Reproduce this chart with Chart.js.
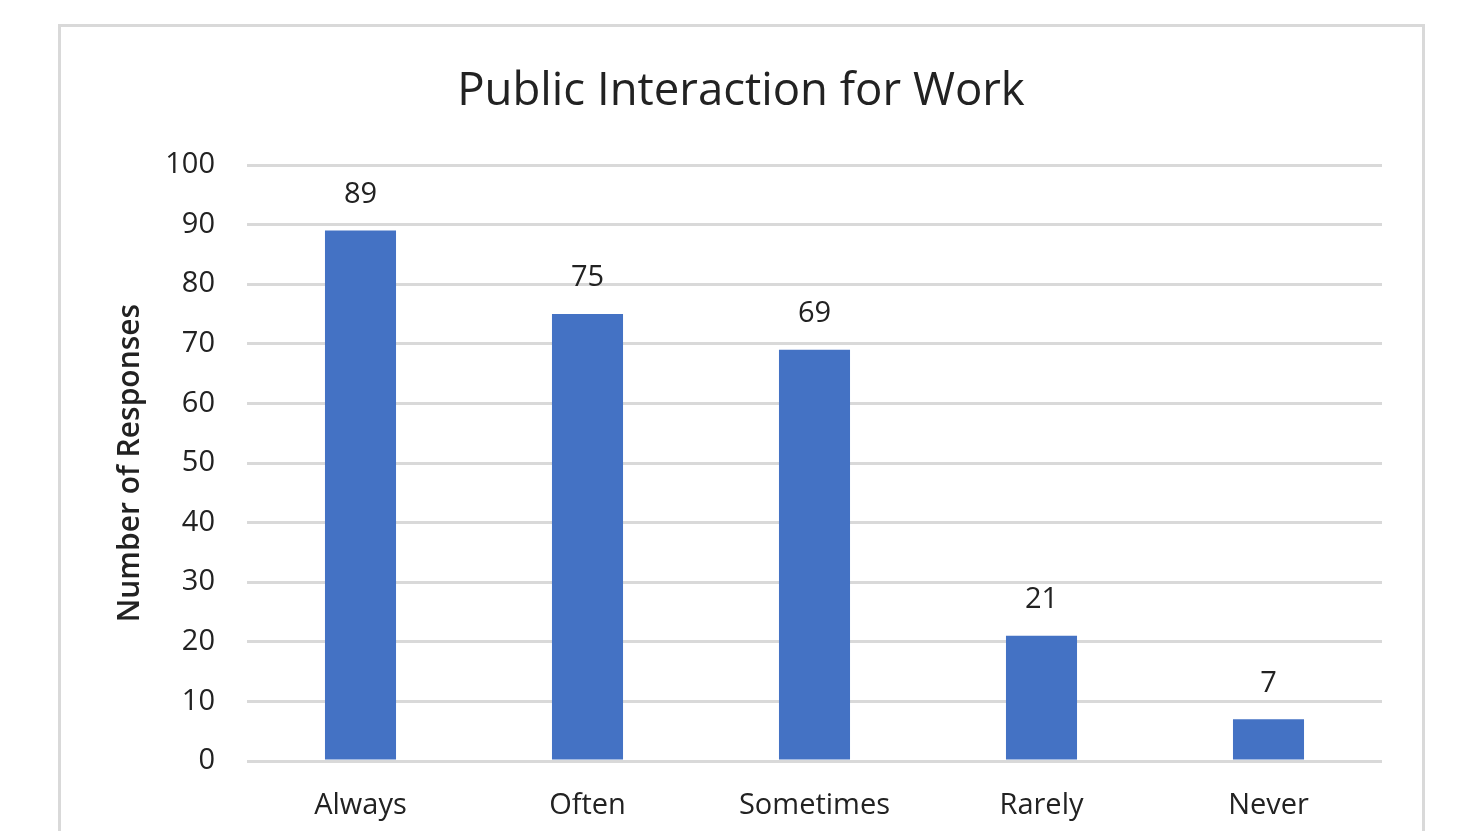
<!DOCTYPE html>
<html>
<head>
<meta charset="utf-8">
<title>Public Interaction for Work</title>
<script src="https://cdn.jsdelivr.net/npm/chart.js@4.4.1/dist/chart.umd.min.js"></script>
<style>
  html, body { margin: 0; padding: 0; background: #fff; overflow: hidden; }
  #wrap { position: relative; width: 1474px; height: 831px; }
  #frame {
    position: absolute; left: 58px; top: 24px; width: 1361px; height: 840px;
    border: 3px solid #d9d9d9; box-sizing: content-box;
  }
  #chart { position: absolute; left: 0; top: 0; }
</style>
</head>
<body>
<div id="wrap">
  <div id="frame"></div>
  <canvas id="chart" width="1474" height="831"></canvas>
</div>
<script>
// Réponses par fréquence
var categories = ['Always', 'Often', 'Sometimes', 'Rarely', 'Never'];
var responses = [89, 75, 69, 21, 7];
var yTicks = [0, 10, 20, 30, 40, 50, 60, 70, 80, 90, 100];

var FONT = '"Open Sans", "Noto Sans", sans-serif';
var TEXT = '#222222';

// étiquettes de valeur au-dessus des barres
var valueLabels = {
    id: 'valueLabels',
    afterDatasetsDraw: function (chart) {
        var ctx = chart.ctx;
        var meta = chart.getDatasetMeta(0);
        ctx.save();
        ctx.font = '29px ' + FONT;
        ctx.fillStyle = TEXT;
        ctx.textAlign = 'center';
        ctx.textBaseline = 'middle';
        meta.data.forEach(function (bar, i) {
            ctx.fillText(String(responses[i]), bar.x, bar.y - 36);
        });
        ctx.restore();
    }
};

document.addEventListener('DOMContentLoaded', function () {
    var ctx = document.getElementById('chart').getContext('2d');
    var chart = new Chart(ctx, {
        type: 'bar',
        data: {
            labels: categories,
            datasets: [{
                label: 'Number of Responses',
                data: responses,
                backgroundColor: '#4472c4',
                borderWidth: 0,
                barPercentage: 0.313,
                categoryPercentage: 1
            }]
        },
        options: {
            responsive: false,
            animation: false,
            layout: { padding: { left: 100, right: 92, top: 0, bottom: 0 } },
            plugins: {
                legend: { display: false },
                tooltip: { enabled: false },
                title: {
                    display: true,
                    text: 'Public Interaction for Work',
                    color: TEXT,
                    font: { family: FONT, size: 45.5, weight: 'normal', lineHeight: 1.2 },
                    padding: { top: 64.7, bottom: 45.7 }
                }
            },
            scales: {
                x: {
                    grid: { display: false, drawTicks: false },
                    border: { display: false },
                    ticks: {
                        color: TEXT,
                        padding: 27,
                        maxRotation: 0,
                        font: { family: FONT, size: 29 }
                    },
                    afterFit: function (scale) { scale.height = 70; }
                },
                y: {
                    min: 0,
                    max: 100,
                    afterBuildTicks: function (scale) {
                        scale.ticks = yTicks.map(function (v) { return { value: v }; });
                    },
                    grid: { color: '#d9d9d9', lineWidth: 3, drawTicks: false },
                    border: { display: false },
                    ticks: {
                        color: TEXT,
                        padding: 32,
                        font: { family: FONT, size: 29 }
                    },
                    title: {
                        display: true,
                        text: 'Number of Responses',
                        color: TEXT,
                        font: { family: FONT, size: 30, weight: 600 },
                        padding: { top: 12, bottom: 0 }
                    },
                    afterFit: function (scale) { scale.width = 147; }
                }
            }
        },
        plugins: [valueLabels]
    });
});
</script>
</body>
</html>
